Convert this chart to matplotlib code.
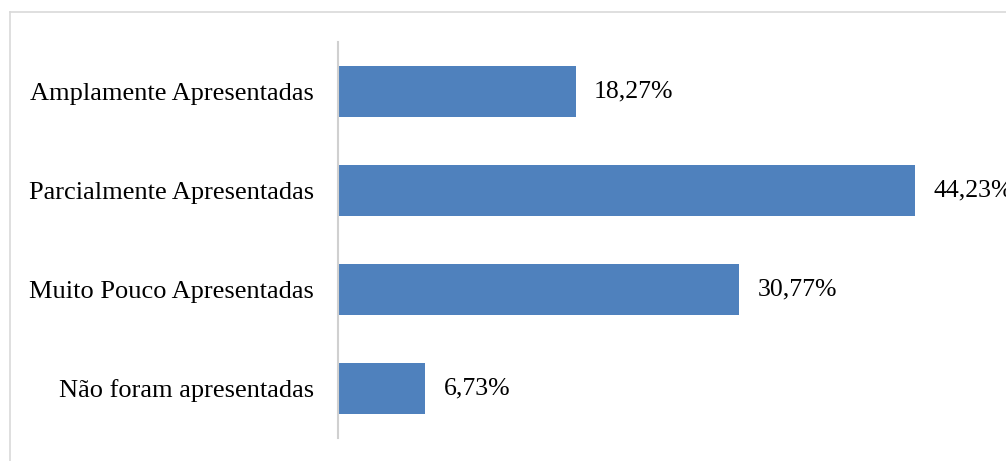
import matplotlib.pyplot as plt
from matplotlib.lines import Line2D

categorias = ["Não foram apresentadas", "Muito Pouco Apresentadas",
              "Parcialmente Apresentadas", "Amplamente Apresentadas"]
valores = [6.73, 30.77, 44.23, 18.27]
rotulos = ["6,73%", "30,77%", "44,23%", "18,27%"]

plt.rcParams['font.family'] = ['Liberation Serif', 'DejaVu Serif']

W, H = 1006, 461
fig = plt.figure(figsize=(W / 100, H / 100), dpi=100)

# eixo: zero em x=337.5 px, topo em y=42, base em y=438
x0, ytop, ybot = 337.5, 42, 438
ax = fig.add_axes([x0 / W, (H - ybot) / H, (W - x0) / W, (ybot - ytop) / H])

y = range(len(categorias))
ax.barh(y, valores, height=0.525, color='#4F81BD')
for yi, v, r in zip(y, valores, rotulos):
    ax.annotate(r, (v, yi), xytext=(13, 0), textcoords='offset points',
                va='center', ha='left', fontsize=18.5, color='#000000',
                annotation_clip=False)

ax.set_xlim(0, (W - x0) / 13.06)
ax.set_ylim(-0.5, len(categorias) - 0.5)
ax.set_yticks(list(y))
ax.set_yticklabels(categorias, fontsize=19)
ax.tick_params(axis='y', length=0, pad=17)
ax.set_xticks([])
for s in ['top', 'right', 'bottom']:
    ax.spines[s].set_visible(False)
ax.spines['left'].set_color('#d0d0d0')
ax.spines['left'].set_linewidth(1.5)

# moldura da área do gráfico
fig.add_artist(Line2D([9.5 / W, 9.5 / W], [0, (H - 12) / H],
                      transform=fig.transFigure, color='#d9d9d9', lw=1.2))
fig.add_artist(Line2D([9.5 / W, 1], [(H - 12) / H, (H - 12) / H],
                      transform=fig.transFigure, color='#d9d9d9', lw=1.2))

fig.savefig('out.png', dpi=100)
